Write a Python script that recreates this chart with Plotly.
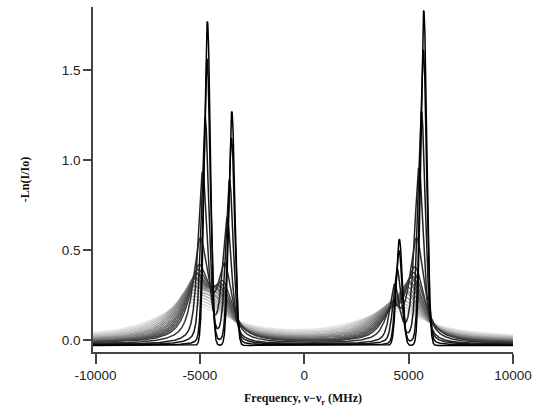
import numpy as np
import plotly.graph_objects as go

# ---- data ----
# centres of the four absorption lines (MHz) and their heights in the narrowest trace
line_centers = [-4640, -3470, 4555, 5725]
narrow_peak_heights = [1.80, 1.30, 0.59, 1.86]
doppler_fwhm = 340.0  # MHz, width of the narrowest trace
# per-trace maximum of the left line pair (above its baseline)
left_peak_height = [1.80, 1.59, 1.26, 0.96, 0.59, 0.44, 0.41, 0.39, 0.38, 0.36,
                    0.35, 0.33, 0.31, 0.30, 0.28, 0.26, 0.24, 0.22, 0.20, 0.18]
# per-trace pressure shift of the lines (MHz) and baseline offset
line_shift = [0, -20, -110, -230, -340, -420, -480, -540, -600, -650,
              -710, -770, -830, -890, -950, -1010, -1070, -1120, -1180, -1240]
baseline = [-0.030, -0.028, -0.026, -0.024, -0.022, -0.020, -0.018, -0.016, -0.014, -0.012,
            -0.009, -0.007, -0.005, -0.003, -0.001, 0.001, 0.004, 0.006, 0.008, 0.011]
freq = np.arange(-10120, 10001, 5.0)
x_ticks = [-10000, -5000, 0, 5000, 10000]
x_ticktext = ["-10000", "-5000", "0", "5000", "10000"]
y_ticks = [0.0, 0.5, 1.0, 1.5]
y_ticktext = ["0.0", "0.5", "1.0", "1.5"]


def pseudo_voigt(x, fg, fl):
    if fl <= 0:
        s = fg / 2.3548
        return np.exp(-x**2 / (2 * s * s)) / (s * np.sqrt(2 * np.pi))
    f = (fg**5 + 2.69269 * fg**4 * fl + 2.42843 * fg**3 * fl**2 + 4.47163 * fg**2 * fl**3
         + 0.07842 * fg * fl**4 + fl**5) ** 0.2
    r = fl / f
    eta = 1.36603 * r - 0.47719 * r**2 + 0.11116 * r**3
    s = f / 2.3548
    g = np.exp(-x**2 / (2 * s * s)) / (s * np.sqrt(2 * np.pi))
    hw = f / 2
    lo = hw / (np.pi * (x**2 + hw**2))
    return eta * lo + (1 - eta) * g


areas = [h * doppler_fwhm * 1.0645 for h in narrow_peak_heights]


def spectrum(fl, shift):
    y = np.zeros_like(freq)
    for c, a in zip(line_centers, areas):
        y = y + a * pseudo_voigt(freq - c - shift, doppler_fwhm, fl)
    return y


left = freq < 0


def lorentz_width_for(target, shift):
    if spectrum(0.0, shift)[left].max() <= target:
        return 0.0
    lo, hi = 0.0, 20000.0
    for _ in range(40):
        mid = 0.5 * (lo + hi)
        if spectrum(mid, shift)[left].max() > target:
            lo = mid
        else:
            hi = mid
    return 0.5 * (lo + hi)


n = len(left_peak_height)
traces = []
for i in range(n):
    fl = lorentz_width_for(left_peak_height[i], line_shift[i])
    traces.append(baseline[i] + spectrum(fl, line_shift[i]))

fig = go.Figure()
for i in reversed(range(n)):
    g = int(round(230 * i / (n - 1)))
    fig.add_trace(go.Scatter(x=freq, y=traces[i], mode="lines",
                             line=dict(color=f"rgb({g},{g},{g})", width=1.5),
                             hoverinfo="skip"))

axis_common = dict(showline=True, linecolor="#444", linewidth=1.5, ticks="outside",
                   tickcolor="#444", tickwidth=1.5, showgrid=False, zeroline=False,
                   automargin=False,
                   tickfont=dict(family="Liberation Sans, Arial, sans-serif", size=13.5, color="#222"))
fig.update_layout(
    width=538, height=411, margin=dict(l=93, r=25, t=7, b=59),
    plot_bgcolor="white", paper_bgcolor="white", showlegend=False,
    xaxis=dict(range=[-10120, 10000], tickvals=x_ticks, ticktext=x_ticktext, ticklen=10,
               title=dict(text="Frequency, ν−ν<sub>r</sub> (MHz)", standoff=12,
                          font=dict(family="Liberation Serif, Times New Roman, serif", size=12,
                                    color="#111", weight="bold")),
               **axis_common),
    yaxis=dict(range=[-0.0667, 1.85], tickvals=y_ticks, ticktext=y_ticktext, ticklen=8,
               title=dict(text="-Ln(I/Io)", standoff=30,
                          font=dict(family="Liberation Serif, Times New Roman, serif", size=12,
                                    color="#111", weight="bold")),
               **axis_common),
)
fig.write_html("out.html", config={"displayModeBar": False},
               post_script="document.body.style.margin='0';document.body.style.overflow='hidden';")
